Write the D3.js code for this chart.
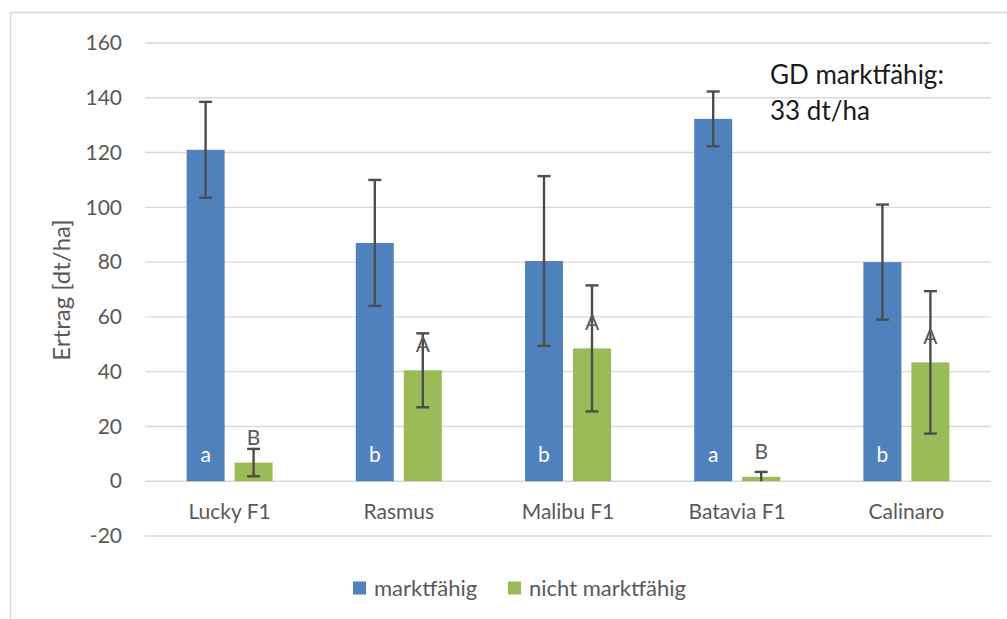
<!DOCTYPE html>
<html>
<head>
<meta charset="utf-8">
<script src="https://cdn.jsdelivr.net/npm/d3@7"></script>
<style>
  body { margin: 0; background: #fff; }
  svg { font-family: Lato, "Open Sans", sans-serif; }
</style>
</head>
<body>
<svg id="chart" width="1007" height="619"></svg>
<script>
const categories = ['Lucky F1', 'Rasmus', 'Malibu F1', 'Batavia F1', 'Calinaro'];
const series = ['marktfähig', 'nicht marktfähig'];
const marketable = [121, 87, 80.4, 132.3, 80];
const marketableErr = [17.5, 23, 31, 10, 21];
const marketableLetters = ['a', 'b', 'b', 'a', 'b'];
const unmarketable = [6.8, 40.5, 48.5, 1.6, 43.4];
const unmarketableErr = [5, 13.5, 23, 1.8, 26];
const unmarketableLetters = ['B', 'A', 'A', 'B', 'A'];
const yTicks = [-20, 0, 20, 40, 60, 80, 100, 120, 140, 160];

const blue = '#4F81BD';
const green = '#9BBB59';
const textGray = '#595959';

const svg = d3.select('#chart');

// chart frame (right and bottom edges fall outside the picture)
svg.append('rect')
  .attr('x', 10.5).attr('y', 12.5)
  .attr('width', 1010).attr('height', 620)
  .attr('fill', 'none')
  .attr('stroke', '#D9D9D9')
  .attr('stroke-width', 1.5);

const y = d3.scaleLinear().domain([-20, 160]).range([536, 43]);
const x = d3.scaleBand().domain(categories).range([145, 991]);
const inner = d3.scaleBand().domain(series).range([0, x.bandwidth()])
  .paddingInner(0.208).paddingOuter(0.867);

// gridlines
svg.append('g')
  .selectAll('line')
  .data(yTicks)
  .join('line')
  .attr('x1', 145).attr('x2', 991)
  .attr('y1', d => y(d)).attr('y2', d => y(d))
  .attr('stroke', '#D9D9D9')
  .attr('stroke-width', 1.4);

// y axis labels
const yAxis = svg.append('g')
  .attr('transform', 'translate(145,0)')
  .call(d3.axisLeft(y).tickValues(yTicks).tickFormat(d => String(d)).tickSize(0).tickPadding(23));
yAxis.select('.domain').remove();
yAxis.selectAll('text')
  .attr('fill', textGray)
  .style('font-size', '21px')
  .style('font-family', 'Lato, sans-serif');

// x axis labels
const xAxis = svg.append('g')
  .attr('transform', `translate(0,${y(0)})`)
  .call(d3.axisBottom(x).tickSize(0).tickPadding(0));
xAxis.select('.domain').remove();
xAxis.selectAll('text')
  .attr('dy', null)
  .attr('y', 38)
  .attr('fill', textGray)
  .style('font-size', '21px')
  .style('font-family', 'Lato, sans-serif');

// axis title
svg.append('text')
  .attr('transform', `translate(70,290) rotate(-90)`)
  .attr('text-anchor', 'middle')
  .attr('fill', textGray)
  .style('font-size', '24px')
  .text('Ertrag [dt/ha]');

const groups = [
  { key: series[0], values: marketable, errs: marketableErr, letters: marketableLetters, color: blue },
  { key: series[1], values: unmarketable, errs: unmarketableErr, letters: unmarketableLetters, color: green }
];

groups.forEach(g => {
  const rows = categories.map((c, i) => ({ c, v: g.values[i], e: g.errs[i], l: g.letters[i] }));
  const gx = d => x(d.c) + inner(g.key);
  const w = inner.bandwidth();

  svg.append('g')
    .selectAll('rect')
    .data(rows)
    .join('rect')
    .attr('x', gx)
    .attr('y', d => y(d.v))
    .attr('width', w)
    .attr('height', d => y(0) - y(d.v))
    .attr('fill', g.color);

  // error bars
  const eb = svg.append('g')
    .attr('stroke', '#4D4D4D')
    .attr('stroke-width', 2.4);
  rows.forEach(d => {
    const cx = gx(d) + w / 2;
    const lo = Math.max(d.v - d.e, 0);
    eb.append('line').attr('x1', cx).attr('x2', cx).attr('y1', y(d.v + d.e)).attr('y2', y(lo));
    eb.append('line').attr('x1', cx - 6.5).attr('x2', cx + 6.5).attr('y1', y(d.v + d.e)).attr('y2', y(d.v + d.e));
    if (d.v - d.e > 0) {
      eb.append('line').attr('x1', cx - 6.5).attr('x2', cx + 6.5).attr('y1', y(lo)).attr('y2', y(lo));
    }
  });

  // letters
  svg.append('g')
    .selectAll('text')
    .data(rows)
    .join('text')
    .attr('x', d => gx(d) + w / 2)
    .attr('y', d => g.key === series[0] ? y(0) - 19 : y(d.v) - 18)
    .attr('text-anchor', 'middle')
    .attr('fill', g.key === series[0] ? '#fff' : textGray)
    .style('font-size', '21px')
    .text(d => d.l);
});

// annotation
const note = svg.append('text')
  .attr('fill', '#1a1a1a')
  .style('font-size', '26px');
note.append('tspan').attr('x', 770).attr('y', 84).text('GD marktfähig:');
note.append('tspan').attr('x', 770).attr('y', 120).text('33 dt/ha');

// legend
const legend = svg.append('g').attr('transform', 'translate(353,588)');
const legendX = [0, 155];
series.forEach((s, i) => {
  const item = legend.append('g').attr('transform', `translate(${legendX[i]},0)`);
  item.append('rect').attr('x', 0).attr('y', -6.5).attr('width', 13).attr('height', 13)
    .attr('fill', i === 0 ? blue : green);
  item.append('text').attr('x', 21).attr('y', 7.5)
    .attr('fill', textGray)
    .style('font-size', '22px')
    .text(s);
});
</script>
</body>
</html>
